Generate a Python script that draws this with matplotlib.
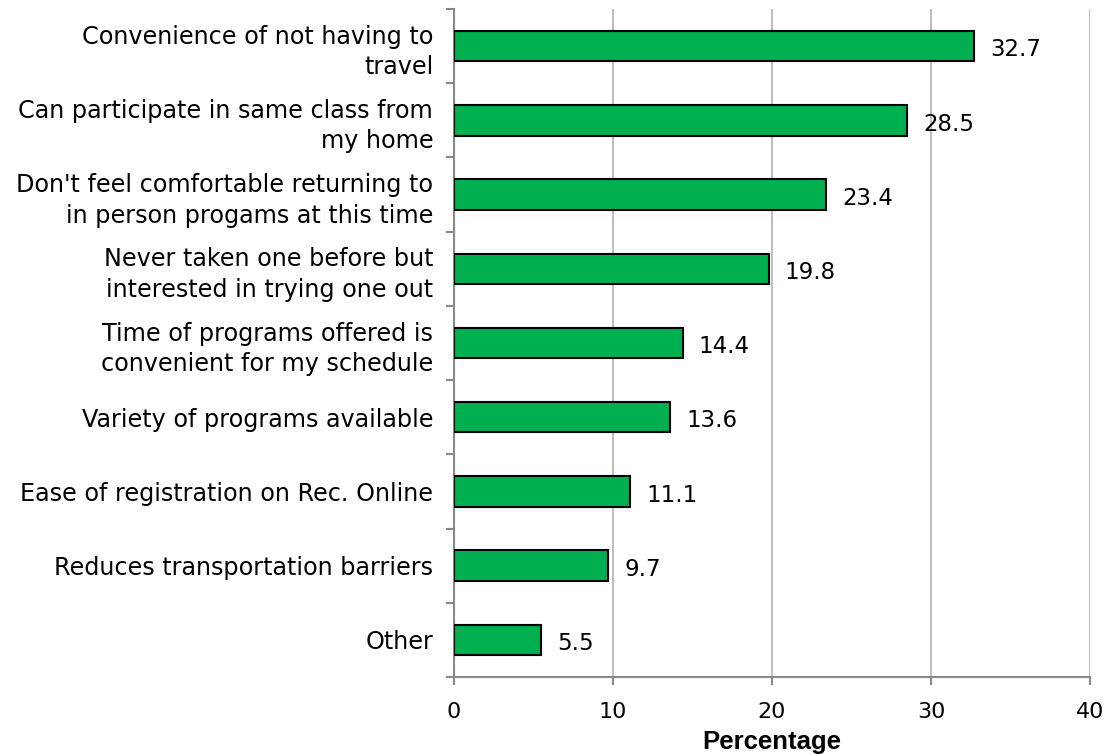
import matplotlib
matplotlib.use("Agg")
import matplotlib.pyplot as plt
import numpy as np

categories = [
    "Convenience of not having to\ntravel",
    "Can participate in same class from\nmy home",
    "Don't feel comfortable returning to\nin person progams at this time",
    "Never taken one before but\ninterested in trying one out",
    "Time of programs offered is\nconvenient for my schedule",
    "Variety of programs available",
    "Ease of registration on Rec. Online",
    "Reduces transportation barriers",
    "Other",
]
values = [32.7, 28.5, 23.4, 19.8, 14.4, 13.6, 11.1, 9.7, 5.5]
xticks = [0, 10, 20, 30, 40]

fig = plt.figure(figsize=(11.11, 7.54), dpi=100)
ax = fig.add_axes([454/1111, 1 - 677/754, (1090-454)/1111, (677-9)/754])

n = len(categories)
y = np.arange(n)[::-1]
ax.barh(y, values, height=0.41, color="#00B050", edgecolor="black", linewidth=1.5, zorder=3)
for yi, v in zip(y, values):
    ax.text(v + 1.0, yi - 0.05, f"{v:.1f}", va="center", ha="left", fontsize=16.5, family="DejaVu Sans")

ax.set_xlim(0, 40)
ax.set_ylim(-0.5, n - 0.5)
ax.set_xticks(xticks)
ax.set_xticklabels([str(t) for t in xticks], fontsize=16)
ax.xaxis.grid(True, color="#BFBFBF", linewidth=1.5, zorder=0)
ax.set_axisbelow(True)

ax.set_yticks(y)
ax.set_yticklabels(categories, fontsize=17.2, linespacing=1.35)
ax.tick_params(axis="y", which="major", length=0, pad=15)
ax.set_yticks(np.arange(-0.5, n, 1), minor=True)
ax.tick_params(axis="y", which="minor", length=5.8, width=1.5, color="#898989", direction="out")
ax.tick_params(axis="x", length=5.8, width=1.5, color="#898989", direction="out", pad=12)

for s in ["top", "right"]:
    ax.spines[s].set_visible(False)
for s in ["left", "bottom"]:
    ax.spines[s].set_color("#898989")
    ax.spines[s].set_linewidth(1.5)

ax.set_xlabel("Percentage", fontsize=18.5, fontweight="bold", family="Liberation Sans", labelpad=6)

fig.savefig("out.png", dpi=100)
